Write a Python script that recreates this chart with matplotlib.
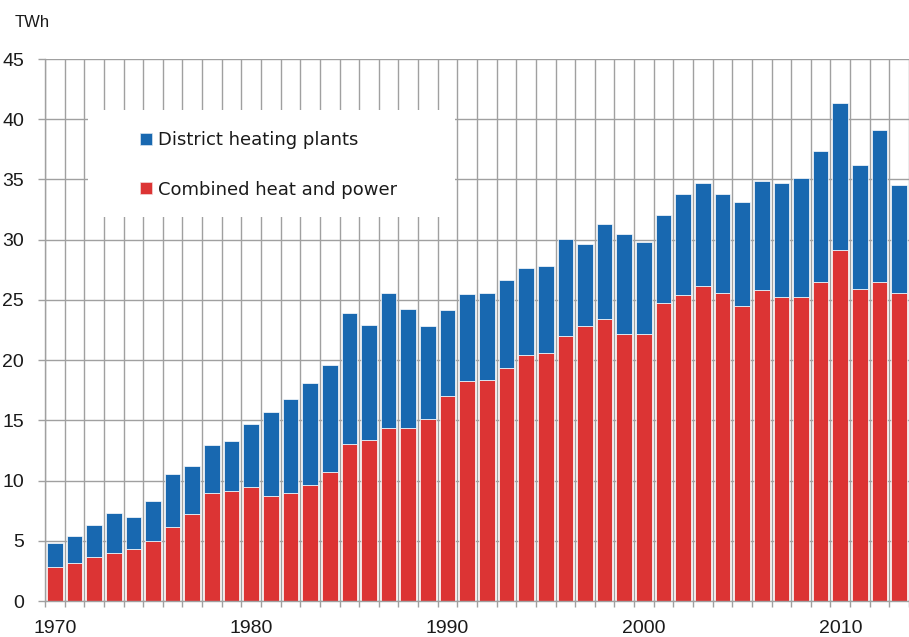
import numpy as np
import matplotlib
matplotlib.use('Agg')
import matplotlib.pyplot as plt
from matplotlib.lines import Line2D
from matplotlib.patches import Rectangle

# district heat production, TWh
YEARS = list(range(1970, 2014))
CHP = [
    2.84, 3.12, 3.67, 3.95, 4.30, 4.99, 6.15, 7.23, 8.94, 9.10,
    9.49, 8.69, 8.94, 9.60, 10.68, 13.07, 13.34, 14.40, 14.40, 15.07,
    17.06, 18.28, 18.39, 19.36, 20.42, 20.56, 22.03, 22.83, 23.39, 22.18,
    22.18, 24.72, 25.43, 26.19, 25.55, 24.48, 25.81, 25.28, 25.28, 26.46,
    29.12, 25.93, 26.46, 25.55,
]
DISTRICT = [
    1.99, 2.26, 2.63, 3.39, 2.66, 3.32, 4.42, 3.98, 4.03, 4.22,
    5.19, 7.04, 7.87, 8.52, 8.93, 10.82, 9.60, 11.21, 9.88, 7.74,
    7.08, 7.19, 7.22, 7.33, 7.19, 7.22, 8.00, 6.81, 7.87, 8.26,
    7.61, 7.34, 8.35, 8.53, 8.23, 8.65, 9.03, 9.41, 9.82, 10.91,
    12.21, 10.26, 12.63, 9.02,
]
LABELED_YEARS = [1970, 1980, 1990, 2000, 2010]
SERIES_LABELS = ['District heating plants', 'Combined heat and power']
UNIT = 'TWh'

BLUE = '#1868b0'
RED = '#dc3434'
GRID = '#a0a0a0'
TEXT = '#1a1a1a'

W, H = 909, 637
# plot area in pixels (from top-left of image)
AX_L, AX_T, AX_B = 45, 59, 601
STEP = 19.9  # px per year


def ax_frac(px, py):
    '''pixel position -> axes fraction'''
    return (px - AX_L) / (W - AX_L), (AX_B - py) / (AX_B - AX_T)


fig = plt.figure(figsize=(W / 100, H / 100), dpi=100)
ax = fig.add_axes([AX_L / W, (H - AX_B) / H, (W - AX_L) / W, (AX_B - AX_T) / H])

x = np.arange(len(YEARS))
ax.bar(x, CHP, width=0.8, color=RED, edgecolor='white', linewidth=0.5, zorder=2)
ax.bar(x, DISTRICT, bottom=CHP, width=0.8, color=BLUE,
       edgecolor='white', linewidth=0.5, zorder=2)

ax.set_xlim(-0.5, -0.5 + (W - AX_L) / STEP)
ax.set_ylim(0, 45)

# year boundaries carry the ticks and vertical grid, decades carry labels
ax.set_xticks(np.arange(len(YEARS) + 1) - 0.5)
ax.set_xticklabels([])
ax.set_xticks([YEARS.index(y) for y in LABELED_YEARS], minor=True)
ax.set_xticklabels([str(y) for y in LABELED_YEARS], minor=True,
                   family='Liberation Sans', fontsize=14, color=TEXT)
ax.tick_params(axis='x', which='major', length=4.3, width=1, color=GRID)
ax.tick_params(axis='x', which='minor', length=0, pad=14)

ax.set_yticks(range(0, 46, 5))
ax.set_yticklabels([str(v) for v in range(0, 46, 5)],
                   family='Liberation Sans', fontsize=14, color=TEXT)
ax.tick_params(axis='y', length=5, width=1, color=GRID, pad=10)

ax.grid(True, which='major', color=GRID, linewidth=1.0)
ax.set_axisbelow(True)
for side in ('top', 'right'):
    ax.spines[side].set_visible(False)
for side in ('left', 'bottom'):
    ax.spines[side].set_color(GRID)
    ax.spines[side].set_linewidth(1.0)

# white box behind legend hides the grid
bx0, by0 = ax_frac(88, 217)
bx1, by1 = ax_frac(455, 110)
ax.add_patch(Rectangle((bx0, by0), bx1 - bx0, by1 - by0, transform=ax.transAxes,
                       facecolor='white', edgecolor='none', zorder=3,
                       clip_on=False))

handles = [
    Line2D([], [], marker='s', ls='', markersize=8.6, color=BLUE,
           markeredgecolor='#d8e4f0', markeredgewidth=0.5),
    Line2D([], [], marker='s', ls='', markersize=8.6, color=RED,
           markeredgecolor='#f4d8d8', markeredgewidth=0.5),
]
lx, ly = ax_frac(140, 165)
leg = ax.legend(handles, SERIES_LABELS, loc='center left', bbox_to_anchor=(lx, ly),
                frameon=False, handlelength=0.7, handletextpad=0.3,
                labelspacing=1.75, borderpad=0, borderaxespad=0,
                prop={'family': 'DejaVu Sans', 'size': 13})
for t in leg.get_texts():
    t.set_color(TEXT)

fig.text(15 / W, 1 - 22.5 / H, UNIT, ha='left', va='center',
         family='Liberation Sans', fontsize=12, color=TEXT)

fig.savefig('out.png', dpi=100)
